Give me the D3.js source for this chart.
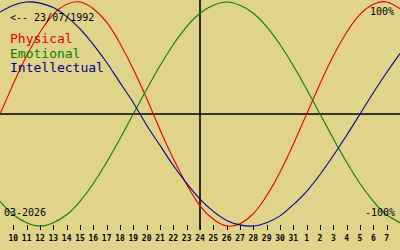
<!DOCTYPE html>
<html>
<head>
<meta charset="utf-8">
<script src="https://cdn.jsdelivr.net/npm/d3@7"></script>
<style>
  html, body { margin: 0; padding: 0; background: #e1d48a; }
  svg { display: block; }
</style>
</head>
<body>
<div id="chart"></div>
<script>
// days shown on the axis, with one extra day at each edge (not labelled)
var days = [9, 10, 11, 12, 13, 14, 15, 16, 17, 18, 19, 20, 21, 22, 23, 24, 25, 26, 27, 28, 29, 30, 31,
            1, 2, 3, 4, 5, 6, 7, 8];
var physical = [0, 27, 52, 73, 89, 98, 100, 94, 82, 63, 40, 14, -14, -40, -63, -82, -94, -100, -98, -89, -73, -52, -27,
                0, 27, 52, 73, 89, 98, 100, 94];
var emotional = [-78, -90, -97, -100, -97, -90, -78, -62, -43, -22, 0, 22, 43, 62, 78, 90, 97, 100, 97, 90, 78, 62, 43,
                 22, 0, -22, -43, -62, -78, -90, -97];
var intellectual = [91, 97, 100, 99, 95, 87, 76, 62, 46, 28, 10, -10, -28, -46, -62, -76, -87, -95, -99, -100, -97, -91, -81,
                    -69, -54, -37, -19, 0, 19, 37, 54];
var seriesNames = ['Physical', 'Emotional', 'Intellectual'];
var seriesColors = ['#e00000', '#008000', '#000090'];
var birthLabel = '<-- 23/07/1992';
var monthLabel = '03-2026';
var todayIndex = 15;

var config = {
  width: 400,
  height: 250,
  top: 2,
  bottom: 226,
  tickTop: 225,
  tickBottom: 230,
  font: '"DejaVu Sans Mono", monospace'
};

var svg = d3.select('#chart').append('svg')
    .attr('width', config.width)
    .attr('height', config.height);

svg.append('rect')
    .attr('width', config.width)
    .attr('height', config.height)
    .attr('fill', '#e1d48a');

var x = d3.scaleLinear()
    .domain([0, days.length - 1])
    .range([0, config.width]);

var y = d3.scaleLinear()
    .domain([-100, 100])
    .range([config.bottom, config.top]);

// zero line and today's line
svg.append('line')
    .attr('x1', 0).attr('x2', config.width)
    .attr('y1', y(0)).attr('y2', y(0))
    .attr('stroke', '#000').attr('stroke-width', 1.6);

svg.append('line')
    .attr('x1', x(todayIndex)).attr('x2', x(todayIndex))
    .attr('y1', 0).attr('y2', config.tickBottom)
    .attr('stroke', '#000').attr('stroke-width', 1.6);

// day ticks
var tickIdx = d3.range(1, days.length - 1);

svg.selectAll('line.tick').data(tickIdx).enter()
    .append('line')
    .attr('class', 'tick')
    .attr('x1', function(d) { return Math.round(x(d)) + 0.5; })
    .attr('x2', function(d) { return Math.round(x(d)) + 0.5; })
    .attr('y1', config.tickTop)
    .attr('y2', config.tickBottom)
    .attr('stroke', '#000')
    .attr('stroke-width', 1);

svg.selectAll('text.day').data(tickIdx).enter()
    .append('text')
    .attr('class', 'day')
    .attr('x', function(d) { return x(d); })
    .attr('y', 241)
    .attr('text-anchor', 'middle')
    .attr('font-family', config.font)
    .attr('font-weight', 'bold')
    .attr('font-size', '8px')
    .attr('fill', '#000')
    .text(function(d) { return days[d]; });

// curves
var line = d3.line()
    .x(function(d, i) { return x(i); })
    .y(function(d) { return y(d); })
    .curve(d3.curveNatural);

[physical, emotional, intellectual].forEach(function(values, i) {
  svg.append('path')
      .attr('d', line(values))
      .attr('fill', 'none')
      .attr('stroke', seriesColors[i])
      .attr('stroke-width', 1.1);
});

// labels
function label(txt, px, py, size, color, anchor) {
  svg.append('text')
      .attr('x', px)
      .attr('y', py)
      .attr('font-family', config.font)
      .attr('font-size', size)
      .attr('fill', color)
      .attr('text-anchor', anchor || 'start')
      .text(txt);
}

label(birthLabel, 10, 21, '10px', '#000');
seriesNames.forEach(function(name, i) {
  label(name, 10, 43 + i * 14.7, '13px', seriesColors[i]);
});
label('100%', 394, 15, '10px', '#000', 'end');
label('-100%', 395, 216, '10px', '#000', 'end');
label(monthLabel, 4, 216, '10px', '#000');
</script>
</body>
</html>
